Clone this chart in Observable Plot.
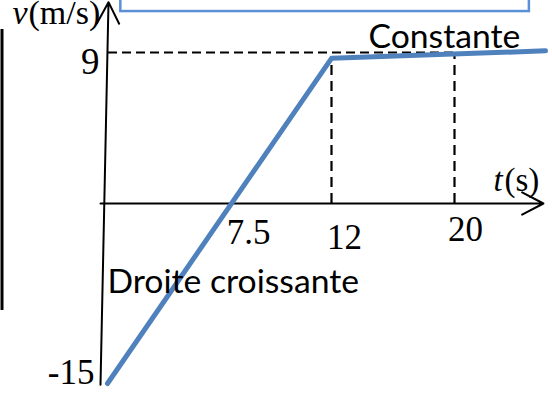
<!DOCTYPE html>
<html><head><meta charset="utf-8">
<script src="https://cdn.jsdelivr.net/npm/d3@7"></script>
<script src="https://cdn.jsdelivr.net/npm/@observablehq/plot@0.6"></script>
<style>html,body{margin:0;padding:0;background:#fff;overflow:hidden;color:#000}</style>
</head><body><div id="chart"></div>
<script>
// v(t) graph: t in s, v in m/s
const times = [0, 12, 23.5];
const speeds = [-15, 8.65, 9.1];
const xTicks = [7.5, 12, 20];
const xTickLabels = ["7.5", "12", "20"];
const yTicks = [9, -15];
const yTickLabels = ["9", "-15"];
const dropTimes = [12, 20];
const dropSpeeds = [8.65, 9];
const refSpeed = 9;
const refEndTime = 20;
const xAxisT = [-0.42, 23.42];
const yAxisT = [-0.42, 0.06];
const yAxisV = [-15.1, 12];
const boxT = [0.8, 22.88];
const boxV = [11.44, 14];
const edgeT = [-6.33];
const edgeV = [-8.92, 10.37];
const annotations = ["Constante", "Droite croissante"];
const axisNames = ["v", "(m/s)", "t", "(s)"];

const serif = "Liberation Serif, Times New Roman, serif";
const sans = "Lato, Calibri, sans-serif";
const pts = times.map((t, i) => ({t, v: speeds[i]}));

const chart = Plot.plot({
  width: 552,
  height: 398,
  x: {type: "linear", domain: [0, 7.5, 12, 20, 23.5], range: [107, 232, 331, 454, 545], axis: null},
  y: {type: "linear", domain: [-15, 0, 9], range: [383, 203, 52], axis: null},
  style: {background: "#fff", color: "#000", overflow: "hidden"},
  marks: [
    Plot.rect([0], {x1: boxT[0], x2: boxT[1], y1: boxV[0], y2: boxV[1], fill: "none", stroke: "#5b8fd6", strokeWidth: 2.5}),
    Plot.ruleX(edgeT, {y1: edgeV[0], y2: edgeV[1], stroke: "#000", strokeWidth: 3}),
    Plot.ruleY([refSpeed], {x1: yAxisT[1], x2: refEndTime, stroke: "#000", strokeWidth: 2.2, strokeDasharray: "9,5"}),
    Plot.ruleX(dropTimes, {y1: 0, y2: (d, i) => dropSpeeds[i], stroke: "#000", strokeWidth: 2.2, strokeDasharray: "10,6"}),
    Plot.arrow([0], {x1: xAxisT[0], x2: xAxisT[1], y1: 0, y2: 0, stroke: "#000", strokeWidth: 2, headAngle: 55, headLength: 18}),
    Plot.arrow([0], {x1: yAxisT[0], x2: yAxisT[1], y1: yAxisV[0], y2: yAxisV[1], stroke: "#000", strokeWidth: 2, headAngle: 55, headLength: 18}),
    Plot.line(pts, {x: "t", y: "v", stroke: "#4f81bd", strokeWidth: 5}),
    // tick labels
    Plot.text([xTicks[0]], {x: d => d, y: 0, text: () => xTickLabels[0], dx: 16, dy: 40, lineAnchor: "bottom", fontFamily: serif, fontSize: 35}),
    Plot.text([xTicks[1]], {x: d => d, y: 0, text: () => xTickLabels[1], dx: 13, dy: 45, lineAnchor: "bottom", fontFamily: serif, fontSize: 35}),
    Plot.text([xTicks[2]], {x: d => d, y: 0, text: () => xTickLabels[2], dx: 11, dy: 37, lineAnchor: "bottom", fontFamily: serif, fontSize: 35}),
    Plot.text([yTicks[0]], {x: 0, y: d => d, text: () => yTickLabels[0], dx: -8, dy: 21, textAnchor: "end", lineAnchor: "bottom", fontFamily: serif, fontSize: 37}),
    Plot.text([yTicks[1]], {x: 0, y: d => d, text: () => yTickLabels[1], dx: -13, dy: 0, textAnchor: "end", lineAnchor: "bottom", fontFamily: serif, fontSize: 35}),
    // axis names
    Plot.text([0], {x: 0, y: refSpeed, text: () => axisNames[0], dx: -95, dy: -29, textAnchor: "start", lineAnchor: "bottom", fontFamily: serif, fontStyle: "italic", fontSize: 34}),
    Plot.text([0], {x: 0, y: refSpeed, text: () => axisNames[1], dx: -79, dy: -29, textAnchor: "start", lineAnchor: "bottom", fontFamily: serif, fontSize: 34}),
    Plot.text([0], {x: 0, y: 0, text: () => axisNames[2], dx: 386, dy: -13, textAnchor: "start", lineAnchor: "bottom", fontFamily: serif, fontStyle: "italic", fontSize: 33}),
    Plot.text([0], {x: 0, y: 0, text: () => axisNames[3], dx: 397, dy: -13, textAnchor: "start", lineAnchor: "bottom", fontFamily: serif, fontSize: 33}),
    // annotations
    Plot.text([0], {x: 12, y: refSpeed, text: () => annotations[0], dx: 37, dy: -5, textAnchor: "start", lineAnchor: "bottom", fontFamily: sans, fontSize: 33.7}),
    Plot.text([0], {x: 0, y: 0, text: () => annotations[1], dx: 0, dy: 89, textAnchor: "start", lineAnchor: "bottom", fontFamily: sans, fontSize: 33.7})
  ]
});
document.getElementById("chart").appendChild(chart);
</script>
</body></html>
